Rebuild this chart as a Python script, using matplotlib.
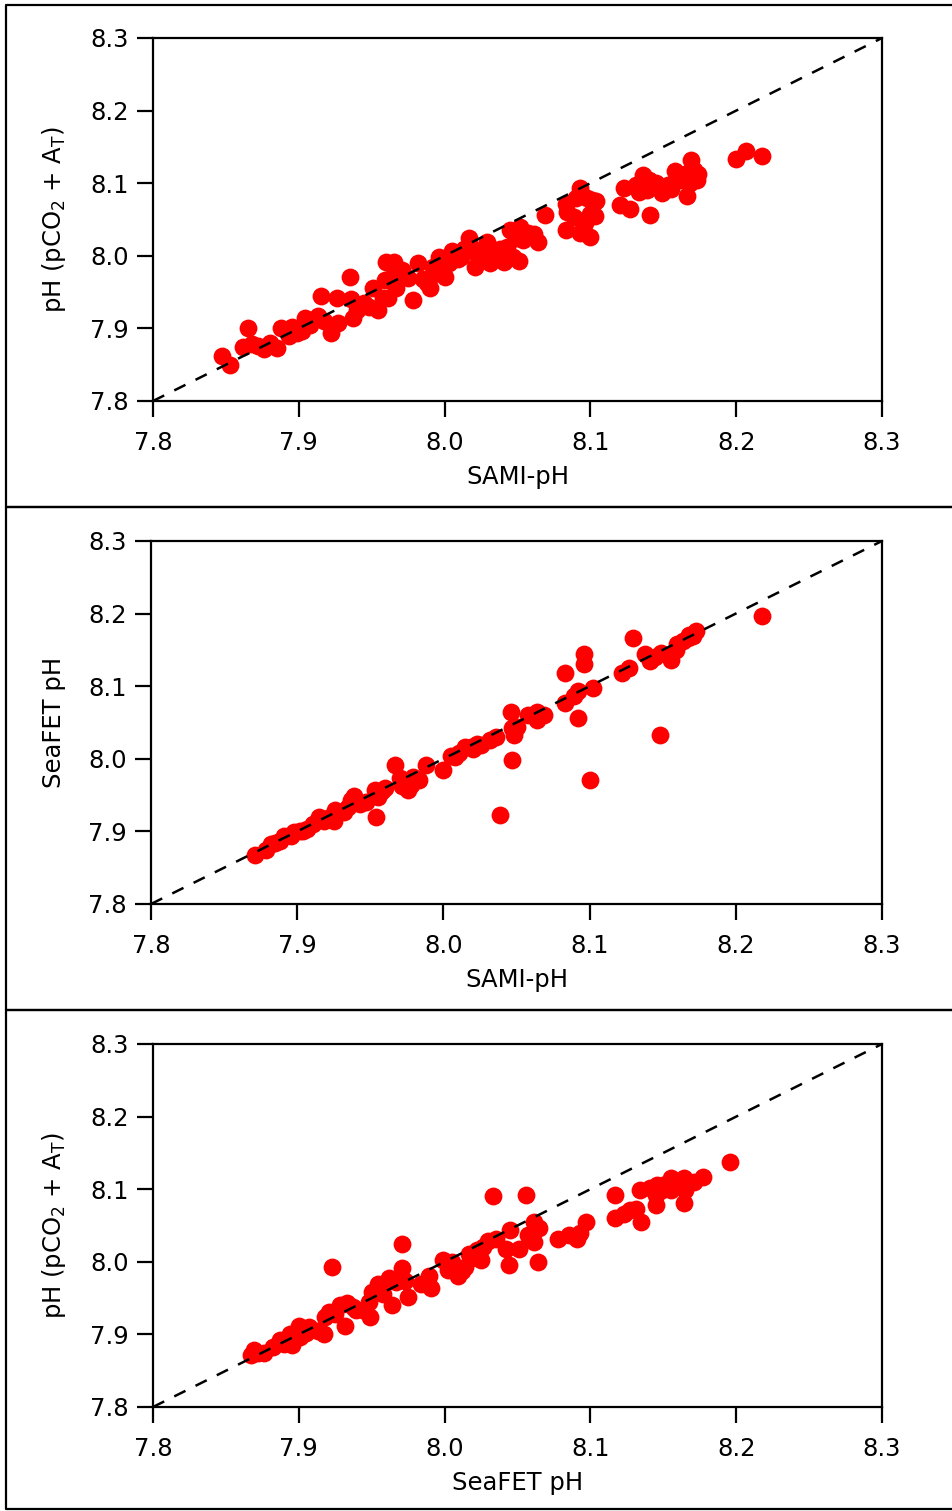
import matplotlib
matplotlib.use("Agg")
import matplotlib.pyplot as plt
from matplotlib.lines import Line2D

plt.rcParams['font.family'] = ['DejaVu Sans']
plt.rcParams['mathtext.default'] = 'regular'

# panel 1: SAMI-pH vs pH (pCO2 + AT)
sami_a = [7.847, 7.853, 7.862, 7.865, 7.872, 7.880, 7.885, 7.888, 7.895, 7.893,
          7.904, 7.902, 7.915, 7.913, 7.917, 7.922, 7.926, 7.927, 7.935, 7.936,
          7.937, 7.940, 7.951, 7.954, 7.958, 7.960, 7.965, 7.961, 7.959, 7.963,
          7.971, 7.975, 7.978, 7.982, 7.985, 7.988, 7.990, 7.993, 7.996, 8.000,
          8.005, 8.009, 8.013, 8.017, 8.021, 8.023, 8.029, 8.031, 8.038, 8.041,
          8.045, 8.047, 8.051, 8.052, 8.054, 8.061, 8.064, 8.069, 8.083, 8.084,
          8.083, 8.089, 8.093, 8.096, 8.098, 8.103, 8.104, 8.100, 8.090, 8.093,
          8.101, 8.100, 8.120, 8.123, 8.127, 8.131, 8.136, 8.140, 8.139, 8.141,
          8.145, 8.149, 8.153, 8.158, 8.162, 8.165, 8.166, 8.169, 8.173, 8.174,
          8.168, 8.200, 8.207, 8.218, 7.868, 7.876, 7.899, 7.908, 7.945, 7.948,
          7.967, 7.992, 8.003, 8.011, 8.026, 8.034, 8.043, 8.057, 8.049, 8.018,
          7.998, 8.155, 8.133, 8.171]
co2_a = [7.862, 7.850, 7.875, 7.900, 7.876, 7.880, 7.873, 7.900, 7.902, 7.890,
         7.914, 7.897, 7.944, 7.917, 7.910, 7.894, 7.942, 7.907, 7.971, 7.940,
         7.914, 7.925, 7.955, 7.925, 7.942, 7.992, 7.992, 7.942, 7.966, 7.970,
         7.980, 7.970, 7.939, 7.990, 7.968, 7.962, 7.955, 7.975, 7.999, 7.971,
         8.006, 7.995, 8.010, 8.024, 7.985, 8.000, 8.019, 7.990, 8.010, 7.991,
         8.035, 7.998, 7.993, 8.040, 8.022, 8.030, 8.019, 8.056, 8.072, 8.061,
         8.035, 8.054, 8.093, 8.045, 8.080, 8.055, 8.075, 8.026, 8.080, 8.031,
         8.077, 8.057, 8.070, 8.093, 8.065, 8.098, 8.111, 8.104, 8.090, 8.056,
         8.100, 8.086, 8.097, 8.117, 8.105, 8.112, 8.083, 8.132, 8.105, 8.112,
         8.100, 8.133, 8.145, 8.137, 7.878, 7.872, 7.893, 7.905, 7.935, 7.930,
         7.955, 7.985, 7.990, 7.998, 8.005, 8.000, 8.012, 8.032, 8.025, 8.012,
         7.980, 8.092, 8.088, 8.118]

# panel 2: SAMI-pH vs SeaFET pH
sami_b = [7.871, 7.879, 7.882, 7.888, 7.891, 7.896, 7.898, 7.904, 7.907, 7.911,
          7.915, 7.918, 7.926, 7.925, 7.932, 7.937, 7.939, 7.943, 7.947, 7.953,
          7.954, 7.955, 7.960, 7.967, 7.970, 7.972, 7.976, 7.979, 7.978, 7.983,
          7.988, 8.000, 8.005, 8.008, 8.015, 8.020, 8.023, 8.032, 8.039, 8.026,
          8.046, 8.047, 8.048, 8.050, 8.047, 8.058, 8.064, 8.064, 8.069, 8.083,
          8.083, 8.089, 8.092, 8.092, 8.096, 8.096, 8.102, 8.100, 8.122, 8.127,
          8.130, 8.138, 8.141, 8.145, 8.148, 8.149, 8.156, 8.159, 8.164, 8.167,
          8.173, 8.171, 8.218, 7.885, 7.902, 7.921, 7.935, 7.958, 8.011, 8.019,
          8.036, 8.168, 8.160]
seafet_b = [7.867, 7.874, 7.882, 7.887, 7.894, 7.894, 7.899, 7.901, 7.903, 7.910,
            7.920, 7.915, 7.929, 7.915, 7.927, 7.943, 7.949, 7.938, 7.941, 7.957,
            7.920, 7.948, 7.960, 7.991, 7.973, 7.962, 7.957, 7.975, 7.964, 7.971,
            7.991, 7.984, 8.004, 8.002, 8.016, 8.014, 8.020, 8.026, 7.922, 8.019,
            8.065, 8.042, 8.033, 8.044, 7.998, 8.060, 8.065, 8.053, 8.060, 8.118,
            8.077, 8.086, 8.093, 8.056, 8.145, 8.131, 8.097, 7.971, 8.118, 8.125,
            8.166, 8.144, 8.135, 8.140, 8.033, 8.146, 8.136, 8.150, 8.162, 8.167,
            8.176, 8.169, 8.197, 7.884, 7.901, 7.918, 7.933, 7.955, 8.008, 8.016,
            8.030, 8.170, 8.158]

# panel 3: SeaFET pH vs pH (pCO2 + AT)
seafet_c = [7.867, 7.869, 7.876, 7.882, 7.887, 7.895, 7.894, 7.900, 7.901, 7.907,
            7.913, 7.917, 7.918, 7.921, 7.923, 7.928, 7.932, 7.933, 7.939, 7.944,
            7.948, 7.949, 7.950, 7.954, 7.958, 7.962, 7.964, 7.971, 7.971, 7.973,
            7.975, 7.984, 7.989, 7.991, 7.999, 8.002, 8.008, 8.009, 8.014, 8.017,
            8.022, 8.025, 8.033, 8.035, 8.026, 8.030, 8.045, 8.042, 8.044, 8.051,
            8.056, 8.057, 8.061, 8.061, 8.065, 8.064, 8.078, 8.085, 8.091, 8.093,
            8.097, 8.117, 8.117, 8.123, 8.127, 8.131, 8.135, 8.134, 8.141, 8.145,
            8.146, 8.145, 8.149, 8.155, 8.155, 8.164, 8.165, 8.164, 8.171, 8.177,
            8.196, 7.872, 7.890, 7.905, 7.925, 7.937, 7.955, 7.967, 8.005, 8.012,
            8.019, 8.150, 8.160]
co2_c = [7.872, 7.878, 7.875, 7.882, 7.892, 7.885, 7.900, 7.912, 7.896, 7.910,
         7.905, 7.901, 7.924, 7.931, 7.993, 7.940, 7.912, 7.943, 7.933, 7.933,
         7.945, 7.924, 7.958, 7.970, 7.956, 7.977, 7.940, 8.025, 7.991, 7.973,
         7.951, 7.969, 7.980, 7.964, 8.002, 7.989, 7.991, 7.980, 7.993, 8.011,
         8.016, 8.002, 8.090, 8.032, 8.021, 8.028, 8.044, 8.018, 7.996, 8.018,
         8.092, 8.037, 8.055, 8.027, 8.046, 8.000, 8.032, 8.037, 8.032, 8.039,
         8.055, 8.092, 8.060, 8.066, 8.071, 8.073, 8.055, 8.099, 8.101, 8.092,
         8.106, 8.078, 8.099, 8.115, 8.099, 8.115, 8.099, 8.081, 8.110, 8.117,
         8.138, 7.875, 7.887, 7.902, 7.928, 7.938, 7.962, 7.972, 8.000, 7.988,
         8.005, 8.106, 8.108]

ticks = [7.8, 7.9, 8.0, 8.1, 8.2, 8.3]

W, H = 952, 1511
fig = plt.figure(figsize=(W / 100, H / 100), dpi=100)

panels = [
    (sami_a, co2_a, "SAMI-pH", "pH (pCO$_2$ + A$_T$)", 153, 38, 401),
    (sami_b, seafet_b, "SAMI-pH", "SeaFET pH", 151, 541, 904),
    (seafet_c, co2_c, "SeaFET pH", "pH (pCO$_2$ + A$_T$)", 153, 1044, 1407),
]

for xs, ys, xlab, ylab, left, top, bottom in panels:
    ax = fig.add_axes([left / W, 1 - bottom / H, (882 - left) / W, (bottom - top) / H])
    ax.scatter(xs, ys, s=165, color="#ff0000", linewidths=0, zorder=2)
    ax.plot([7.8, 8.3], [7.8, 8.3], color="black", lw=1.8, dashes=(5, 4.5), zorder=3)
    ax.set_xlim(7.8, 8.3)
    ax.set_ylim(7.8, 8.3)
    ax.set_xticks(ticks)
    ax.set_yticks(ticks)
    ax.set_xticklabels(["%.1f" % t for t in ticks])
    ax.set_yticklabels(["%.1f" % t for t in ticks])
    ax.tick_params(direction="out", length=11.5, width=1.6, labelsize=17.5,
                   top=False, right=False)
    ax.tick_params(axis="x", pad=10)
    ax.tick_params(axis="y", pad=6)
    for sp in ax.spines.values():
        sp.set_linewidth(1.6)
    ax.set_xlabel(xlab, fontsize=17.5, labelpad=7)
    ax.set_ylabel(ylab, fontsize=17.5, labelpad=16)

# panel frames
for y0, y1 in [(5, 507), (507, 1010), (1010, 1509)]:
    xs_f = [W + 10, 6, 6, W + 10]
    ys_f = [y0, y0, y1, y1]
    fig.add_artist(Line2D([x / W for x in xs_f], [1 - y / H for y in ys_f],
                          color="black", lw=1.6, transform=fig.transFigure))

fig.savefig("out.png", dpi=100)
